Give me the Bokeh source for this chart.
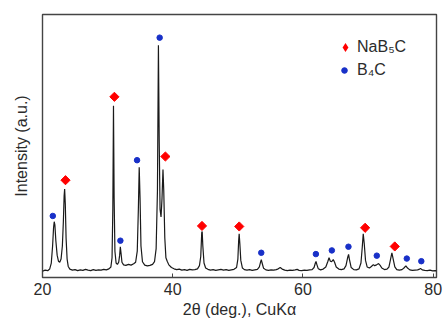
import numpy as np
from bokeh.plotting import figure
from bokeh.models import Range1d, FixedTicker, Legend, LegendItem
from bokeh.embed import file_html
from bokeh.resources import INLINE

# XRD trace: diffraction angle (2-theta, degrees) and intensity (arbitrary units)
two_theta = [
    20.0, 20.4, 20.8, 21.1, 21.35, 21.55, 21.7, 21.8, 21.9, 22.05,
    22.25, 22.45, 22.65, 22.85, 23.05, 23.2, 23.32, 23.4, 23.5, 23.62,
    23.78, 23.95, 24.2, 24.6, 25.0, 25.4, 25.8, 26.2, 26.6, 27.0,
    27.4, 27.8, 28.2, 28.6, 29.0, 29.4, 29.8, 30.2, 30.5, 30.68,
    30.8, 30.9, 31.0, 31.12, 31.3, 31.5, 31.7, 31.85, 31.95, 32.05,
    32.2, 32.45, 32.8, 33.2, 33.6, 34.0, 34.3, 34.55, 34.72, 34.85,
    34.98, 35.12, 35.35, 35.7, 36.1, 36.5, 36.9, 37.2, 37.45, 37.65,
    37.8, 37.92, 38.05, 38.2, 38.35, 38.5, 38.62, 38.78, 38.95, 39.15,
    39.4, 39.8, 40.2, 40.6, 41.0, 41.4, 41.8, 42.2, 42.6, 43.0,
    43.4, 43.8, 44.1, 44.3, 44.45, 44.52, 44.62, 44.8, 45.05, 45.4,
    45.8, 46.2, 46.6, 47.0, 47.4, 47.8, 48.2, 48.6, 49.0, 49.4,
    49.8, 50.0, 50.12, 50.2, 50.3, 50.45, 50.7, 51.0, 51.4, 51.8,
    52.2, 52.6, 53.0, 53.3, 53.5, 53.6, 53.72, 53.95, 54.3, 54.7,
    55.1, 55.5, 55.9, 56.2, 56.5, 56.8, 57.2, 57.6, 58.0, 58.4,
    58.8, 59.1, 59.4, 59.8, 60.2, 60.6, 61.0, 61.4, 61.7, 61.9,
    62.0, 62.12, 62.35, 62.7, 63.1, 63.5, 63.8, 64.0, 64.2, 64.4,
    64.65, 64.85, 65.1, 65.5, 65.9, 66.3, 66.6, 66.85, 67.0, 67.12,
    67.4, 67.8, 68.2, 68.6, 68.9, 69.1, 69.25, 69.4, 69.6, 69.85,
    70.2, 70.5, 70.8, 71.0, 71.3, 71.6, 71.85, 72.1, 72.5, 72.9,
    73.2, 73.45, 73.65, 73.85, 74.1, 74.4, 74.8, 75.2, 75.5, 75.8,
    76.05, 76.4, 76.8, 77.2, 77.6, 77.9, 78.05, 78.3, 78.7, 79.1,
    79.5, 79.9, 80.3, 80.5,
]
intensity = [
    24, 28, 26, 32, 55, 120, 190, 212, 200, 140,
    85, 62, 58, 70, 120, 210, 310, 336, 280, 150,
    70, 42, 32, 28, 30, 26, 29, 27, 31, 28,
    26, 30, 27, 29, 28, 31, 29, 33, 40, 75,
    260, 653, 300, 100, 55, 50, 58, 85, 117, 95,
    58, 48, 46, 50, 47, 52, 58, 100, 260, 419,
    300, 120, 60, 47, 44, 46, 50, 60, 110, 330,
    883, 520, 260, 230, 300, 411, 330, 150, 75, 62,
    48, 38, 33, 30, 32, 28, 30, 27, 31, 29,
    30, 33, 45, 80, 170, 175, 120, 55, 36, 31,
    28, 30, 27, 29, 31, 28, 30, 27, 29, 31,
    38, 70, 140, 166, 130, 65, 36, 30, 28, 30,
    27, 29, 31, 40, 60, 68, 55, 35, 29, 27,
    29, 28, 30, 33, 38, 32, 28, 26, 28, 27,
    29, 31, 27, 26, 28, 27, 29, 30, 38, 55,
    61, 50, 33, 29, 32, 40, 60, 75, 62, 60,
    68, 58, 40, 32, 30, 33, 45, 75, 88, 70,
    38, 30, 29, 33, 55, 115, 166, 130, 65, 40,
    36, 42, 49, 45, 48, 53, 46, 36, 30, 32,
    40, 70, 94, 70, 40, 30, 28, 30, 36, 44,
    36, 29, 27, 28, 29, 32, 34, 29, 27, 26,
    28, 25, 26, 25,
]

# Phase markers placed above the assigned reflections
nab5c_theta = [23.53, 31.04, 38.87, 44.49, 50.21, 69.54, 74.09]
nab5c_level = [370, 687, 460, 196, 194, 189, 118]
b4c_theta = [21.58, 31.96, 34.52, 37.99, 53.59, 61.98, 64.43, 66.98, 71.33, 75.94, 78.17]
b4c_level = [234, 140, 446, 912, 94, 89, 103, 117, 83, 72, 62]

x_ticks = [20, 40, 60, 80]

FONT = "Liberation Sans"
INK = "#2b2b2b"
RED = "#ff0000"
BLUE = "#1830c8"
FS = "16px"

p = figure(
    width=443, height=320,
    output_backend="svg", toolbar_location=None,
    x_range=Range1d(20, 80.5), y_range=Range1d(0, 1000),
    min_border_left=42, min_border_right=7,
    min_border_top=14, min_border_bottom=41,
    background_fill_color="white", border_fill_color="white",
)
p.grid.visible = False
p.outline_line_color = "#444444"
p.outline_line_width = 1.4

p.line(two_theta, intensity, line_color="#1a1a1a", line_width=1.2)
# NaB5C key glyph: a small diamond that sits fully inside each rotated square,
# used by the legend (legend glyphs are drawn unrotated)
r_nab5c_key = p.scatter(nab5c_theta, nab5c_level, marker="diamond", size=5,
                        fill_color=RED, line_color=None)
p.scatter(nab5c_theta, nab5c_level, marker="square", angle=np.pi / 4,
          size=6.5, fill_color=RED, line_color=RED)
r_b4c = p.scatter(b4c_theta, b4c_level, marker="circle", size=5.5,
                  fill_color=BLUE, line_color=BLUE)

xa = p.xaxis[0]
xa.ticker = FixedTicker(ticks=x_ticks)
xa.axis_line_color = None
xa.major_tick_in = 4
xa.major_tick_out = 0
xa.major_tick_line_color = "#444444"
xa.minor_tick_line_color = None
xa.major_label_text_font = FONT
xa.major_label_text_font_size = FS
xa.major_label_text_color = INK
xa.major_label_standoff = 5
xa.axis_label = "2θ (deg.), CuKα"
xa.axis_label_text_font = FONT
xa.axis_label_text_font_size = FS
xa.axis_label_text_font_style = "normal"
xa.axis_label_text_color = INK
xa.axis_label_standoff = 3

ya = p.yaxis[0]
ya.ticker = FixedTicker(ticks=[])
ya.axis_line_color = None
ya.major_tick_line_color = None
ya.minor_tick_line_color = None
ya.major_label_text_font_size = "0px"
ya.axis_label = "Intensity (a.u.)"
ya.axis_label_text_font = FONT
ya.axis_label_text_font_size = FS
ya.axis_label_text_font_style = "normal"
ya.axis_label_text_color = INK
ya.axis_label_standoff = 13

# one legend per phase so each key glyph gets its own size
legend_nab5c = Legend(
    items=[LegendItem(label="NaB₅C", renderers=[r_nab5c_key])],
    location=(292, 219),
    border_line_color=None, background_fill_alpha=0,
    padding=0, margin=0, glyph_width=22, glyph_height=22, label_standoff=1,
    label_text_font=FONT, label_text_font_size=FS, label_text_color=INK,
)
legend_b4c = Legend(
    items=[LegendItem(label="B₄C", renderers=[r_b4c])],
    location=(295, 198),
    border_line_color=None, background_fill_alpha=0,
    padding=0, margin=0, glyph_width=14, glyph_height=14, label_standoff=6,
    label_text_font=FONT, label_text_font_size=FS, label_text_color=INK,
)
p.add_layout(legend_nab5c)
p.add_layout(legend_b4c)

open("out.html", "w").write(file_html(p, INLINE))
